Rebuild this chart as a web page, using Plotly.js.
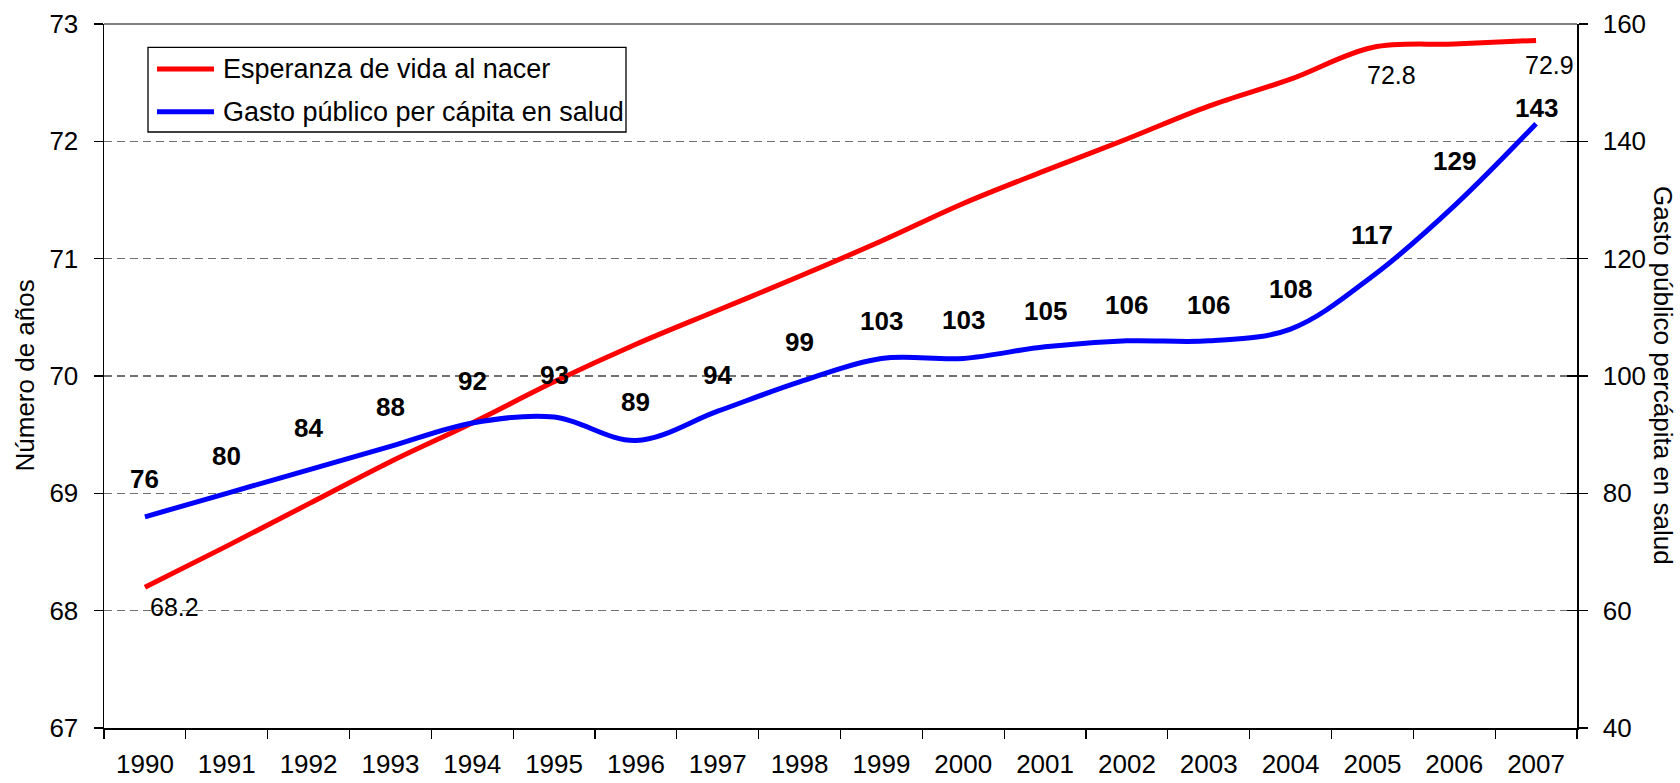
<!DOCTYPE html>
<html>
<head>
<meta charset="utf-8">
<script src="https://cdn.plot.ly/plotly-3.0.1.min.js"></script>
<style>
  html, body { margin: 0; padding: 0; background: #ffffff; }
  #chart { width: 1680px; height: 783px; }
</style>
</head>
<body>
<div id="chart"></div>
<script>
// ---- Data ----
const years = ["1990","1991","1992","1993","1994","1995","1996","1997","1998",
               "1999","2000","2001","2002","2003","2004","2005","2006","2007"];
// Esperanza de vida al nacer (años)
const esperanza = [68.2, 68.55, 68.91, 69.27, 69.6, 69.95, 70.27, 70.56, 70.85,
                   71.15, 71.47, 71.75, 72.02, 72.3, 72.53, 72.8, 72.83, 72.86];
// Gasto público per cápita en salud
const gasto = [76, 80, 84, 88, 92, 93, 89, 94, 99, 103, 103, 105, 106, 106, 108, 117, 129, 143];

const nameEsperanza = "Esperanza de vida al nacer";
const nameGasto = "Gasto público per cápita en salud";
const yTitleLeft = "Número de años";
const yTitleRight = "Gasto público percápita en salud";

// Which life-expectancy points carry a label
const esperanzaLabelIdx = [0, 15, 17];

// ---- Label placement (pixels, style only) ----
const gastoLabelShift = [38, 37, 42, 39, 42, 42, 39, 36, 40, 37, 38, 36, 36, 36, 40, 41, 45, 16];
const espLabelDx = [30, 19, 13];
const espLabelDy = [-20, -28, -25];

const FONT = "Liberation Sans, Arial, sans-serif";
const COL_RED = "#ff0000";
const COL_BLUE = "#0000ff";

// plot-area geometry in pixels (for placing the legend box and titles)
const M = { l: 104, r: 103, t: 24, b: 55 };
const W = 1680, H = 783;
const PW = W - M.l - M.r, PH = H - M.t - M.b;
const px = v => (v - M.l) / PW;
const py = v => (H - M.b - v) / PH;

const traces = [
  {
    x: years, y: esperanza, name: nameEsperanza, type: "scatter", mode: "lines",
    line: { color: COL_RED, width: 5, shape: "spline", smoothing: 1 },
    yaxis: "y", hoverinfo: "skip", showlegend: false
  },
  {
    x: years, y: gasto, name: nameGasto, type: "scatter", mode: "lines",
    line: { color: COL_BLUE, width: 5, shape: "spline", smoothing: 1 },
    yaxis: "y2", hoverinfo: "skip", showlegend: false
  },
  // invisible helper trace so the inner tick marks of the right axis get drawn
  {
    x: years, y: gasto, type: "scatter", mode: "lines", yaxis: "y3",
    line: { width: 0, color: "rgba(0,0,0,0)" }, opacity: 0,
    hoverinfo: "skip", showlegend: false
  }
];

const annotations = [];
// category axis: annotation x is the category's serial number
gasto.forEach((v, i) => {
  annotations.push({
    x: i, y: v, xref: "x", yref: "y2", text: "<b>" + v + "</b>", showarrow: false,
    yshift: gastoLabelShift[i],
    font: { family: FONT, size: 26, color: "#000" }
  });
});
esperanzaLabelIdx.forEach((idx, k) => {
  annotations.push({
    x: idx, y: esperanza[idx], xref: "x", yref: "y", text: esperanza[idx].toFixed(1),
    showarrow: false, xshift: espLabelDx[k], yshift: espLabelDy[k],
    font: { family: FONT, size: 25, color: "#000" }
  });
});
// Axis titles
annotations.push({
  xref: "paper", yref: "paper", x: px(24.5), y: 0.5, xanchor: "center", yanchor: "middle",
  text: yTitleLeft, textangle: -90, showarrow: false,
  font: { family: FONT, size: 26, color: "#000" }
});
annotations.push({
  xref: "paper", yref: "paper", x: px(1663), y: 0.5, xanchor: "center", yanchor: "middle",
  text: yTitleRight, textangle: 90, showarrow: false,
  font: { family: FONT, size: 26, color: "#000" }
});
// Legend texts
annotations.push({
  xref: "paper", yref: "paper", x: px(221), y: py(69), xanchor: "left", yanchor: "middle",
  text: nameEsperanza, showarrow: false, font: { family: FONT, size: 27, color: "#000" }
});
annotations.push({
  xref: "paper", yref: "paper", x: px(221), y: py(111.7), xanchor: "left", yanchor: "middle",
  text: nameGasto, showarrow: false, font: { family: FONT, size: 27, color: "#000" }
});

const layout = {
  width: W, height: H,
  margin: { l: M.l, r: M.r, t: M.t, b: M.b, pad: 0 },
  paper_bgcolor: "#ffffff", plot_bgcolor: "#ffffff",
  font: { family: FONT, size: 26, color: "#000" },
  showlegend: false,
  xaxis: {
    type: "category", range: [-0.5, 17.5], fixedrange: true,
    showline: true, linecolor: "#000", linewidth: 1.5,
    ticks: "outside", ticklen: 9, tickwidth: 1.3, tickcolor: "#000",
    tickson: "boundaries", showgrid: false, zeroline: false,
    ticklabelstandoff: 12,
    tickfont: { family: FONT, size: 26, color: "#000" }
  },
  yaxis: {
    range: [67, 73], dtick: 1, tick0: 67, fixedrange: true,
    showline: true, linecolor: "#000", linewidth: 1.5,
    ticks: "outside", ticklen: 9, tickwidth: 1.3, tickcolor: "#000",
    ticklabelstandoff: 10,
    showgrid: true, gridcolor: "#707070", gridwidth: 1.3, griddash: "8px,5px",
    zeroline: false,
    tickfont: { family: FONT, size: 26, color: "#000" }
  },
  yaxis2: {
    range: [40, 160], dtick: 20, tick0: 40, overlaying: "y", side: "right", fixedrange: true,
    showline: true, linecolor: "#000", linewidth: 1.5,
    ticks: "outside", ticklen: 9, tickwidth: 1.3, tickcolor: "#000",
    ticklabelstandoff: 10,
    showgrid: false, zeroline: false,
    tickfont: { family: FONT, size: 26, color: "#000" }
  },
  yaxis3: {
    range: [40, 160], dtick: 20, tick0: 40, overlaying: "y", side: "right", fixedrange: true,
    showline: false, ticks: "inside", ticklen: 10, tickwidth: 1.3, tickcolor: "#000",
    showticklabels: false, showgrid: false, zeroline: false
  },
  shapes: [
    { type: "line", xref: "paper", yref: "paper", x0: 0, x1: 1, y0: 1, y1: 1,
      line: { color: "#808080", width: 2 } },
    // legend box and line samples
    { type: "rect", xref: "paper", yref: "paper", x0: px(148), x1: px(626), y0: py(47.3), y1: py(132),
      fillcolor: "#ffffff", line: { color: "#000", width: 1.3 } },
    { type: "line", xref: "paper", yref: "paper", x0: px(157), x1: px(214), y0: py(69), y1: py(69),
      line: { color: COL_RED, width: 5 } },
    { type: "line", xref: "paper", yref: "paper", x0: px(157), x1: px(214), y0: py(111.7), y1: py(111.7),
      line: { color: COL_BLUE, width: 5 } }
  ],
  annotations: annotations
};

Plotly.newPlot("chart", traces, layout, { displayModeBar: false, staticPlot: true });
</script>
</body>
</html>
